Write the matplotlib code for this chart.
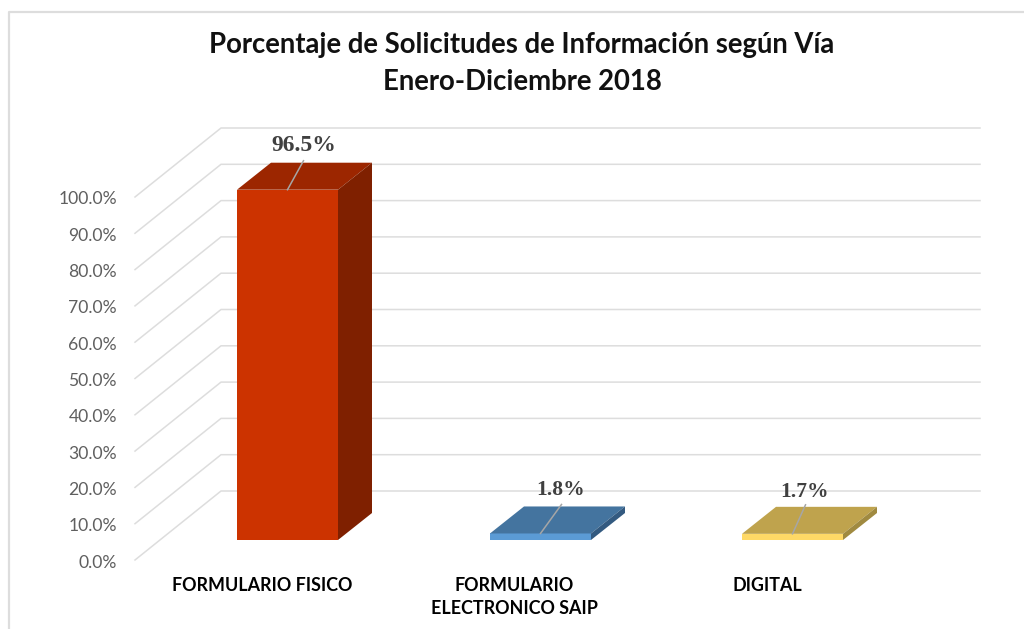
import matplotlib
matplotlib.use("Agg")
import matplotlib.pyplot as plt
from matplotlib.patches import Polygon

# data
categories = ["FORMULARIO FISICO", "FORMULARIO\nELECTRONICO SAIP", "DIGITAL"]
values = [96.5, 1.8, 1.7]
value_labels = ["96.5%", "1.8%", "1.7%"]
axis_ticks = [0, 10, 20, 30, 40, 50, 60, 70, 80, 90, 100]
title = "Porcentaje de Solicitudes de Información según Vía\nEnero-Diciembre 2018"

front_colors = ["#CC3300", "#5B9BD5", "#FFD966"]
top_colors = ["#9C2600", "#44749F", "#BFA34D"]
side_colors = ["#7F2000", "#335A80", "#A08A40"]

# picture geometry, in pixels
PX = 3.63   # pixels per 1 %
BACK_Y0 = 491
FLOOR_X0, FLOOR_X1 = 135, 221
RIGHT_X = 980
BAR_Y0 = 540
BAR_X = [237, 490, 742]
BAR_W = 101
DX, DY = 34, 27
GRID = "#DDDDDD"
LABEL_DX = [16, 20, 12]
LABEL_DY = [44, 43, 42]
LABEL_SIZE = [17, 15.5, 15.5]
LEADER_DX = [16, 21, 13]


def back_y(v):
    return BACK_Y0 - v * PX


fig = plt.figure(figsize=(10.24, 6.29), dpi=100)
ax = fig.add_axes([0, 0, 1, 1])
ax.set_xlim(0, 1024)
ax.set_ylim(629, 0)
ax.axis("off")

# chart frame
ax.plot([9, 9, 1024], [629, 12, 12], color=GRID, lw=1.6)

# walls
for t in axis_ticks:
    y = back_y(t)
    ax.plot([FLOOR_X0, FLOOR_X1, RIGHT_X], [y + 69, y, y], color=GRID, lw=1.1, zorder=1)
    ax.text(117, y + 71.5, f"{t:.1f}%", ha="right", va="center", color="#5F5F5F",
            family="Lato", fontsize=12.6)

# bars
for i, v in enumerate(values):
    x0 = BAR_X[i]
    x1 = x0 + BAR_W
    yb = BAR_Y0
    yt = BAR_Y0 - v * PX
    ax.add_patch(Polygon([(x0, yb), (x1, yb), (x1, yt), (x0, yt)], color=front_colors[i], lw=0, zorder=3))
    ax.add_patch(Polygon([(x0, yt), (x1, yt), (x1 + DX, yt - DY), (x0 + DX, yt - DY)],
                         color=top_colors[i], lw=0, zorder=3))
    ax.add_patch(Polygon([(x1, yb), (x1 + DX, yb - DY), (x1 + DX, yt - DY), (x1, yt)],
                         color=side_colors[i], lw=0, zorder=3))
    # leader line and value label
    xm = x0 + BAR_W / 2
    ax.plot([xm, xm + LEADER_DX[i]], [yt, yt - 29], color="#A6A6A6", lw=1.1, zorder=4)
    ax.text(xm + LABEL_DX[i], yt - LABEL_DY[i], value_labels[i], ha="center", va="center", color="#404040",
            family="Liberation Serif", fontweight="bold", fontsize=LABEL_SIZE[i], zorder=5)

# category labels
cat_x = [262, 514, 767]
for x, c in zip(cat_x, categories):
    ax.text(x, 577, c, ha="center", va="top", color="#000000", family="Lato",
            fontsize=12.9, fontweight="bold", linespacing=1.42)

ax.text(522, 63.5, title, ha="center", va="center", color="#111111", family="Lato",
        fontweight="bold", fontsize=19.8, linespacing=1.5)

fig.savefig("out.png", dpi=100)
